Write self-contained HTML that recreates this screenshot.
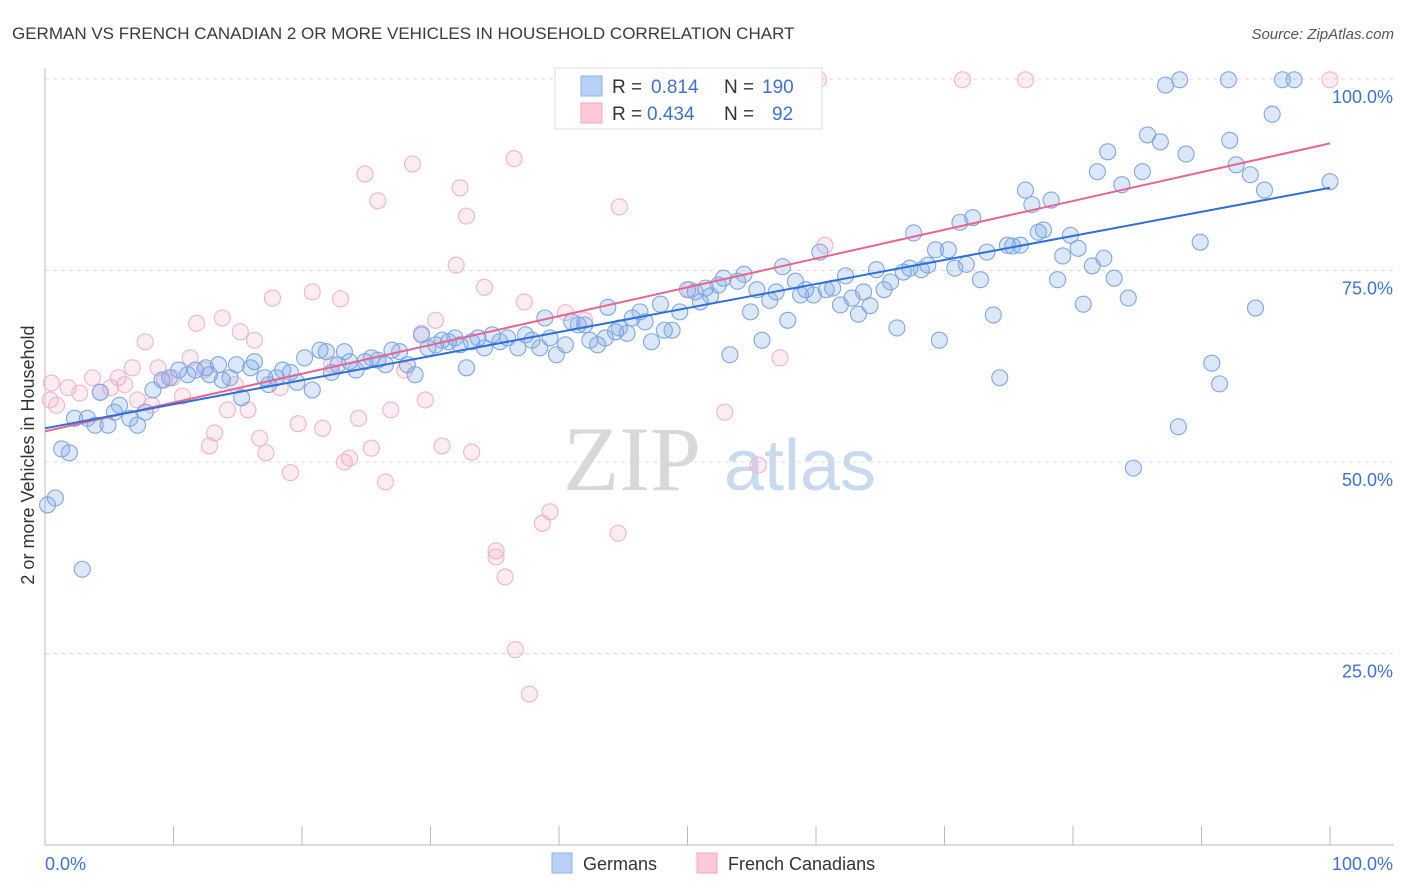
<!DOCTYPE html>
<html><head><meta charset="utf-8"><style>
body{margin:0;background:#fff;font-family:"Liberation Sans",sans-serif;}
svg{display:block}
</style></head><body>
<svg id="chart" width="1406" height="892">
<text x="12" y="39" font-size="17" fill="#3a3a3a">GERMAN VS FRENCH CANADIAN 2 OR MORE VEHICLES IN HOUSEHOLD CORRELATION CHART</text>
<text x="1394" y="39" font-size="15" font-style="italic" fill="#555" text-anchor="end">Source: ZipAtlas.com</text>
<g>
<text x="632" y="490" font-size="92" font-family="Liberation Serif,serif" fill="#d8d8d8" text-anchor="middle">ZIP</text>
<text x="800" y="490" font-size="72" fill="#c9d9f0" text-anchor="middle">atlas</text>
</g>
<g id="grid"></g>
<g id="axes"></g>
<g id="pts"></g>
<g id="lines"></g>
<text transform="translate(34,455) rotate(-90)" font-size="18" fill="#333" text-anchor="middle">2 or more Vehicles in Household</text>
<g>
<rect x="555" y="68" width="267" height="61" fill="rgba(255,255,255,0.85)" stroke="#ddd"/>
<rect x="581" y="76" width="21" height="20" fill="#b8d0f4" stroke="#8fb2ea"/>
<rect x="581" y="103" width="21" height="20" fill="#fbc9d8" stroke="#f3a8c0"/>
<text x="612" y="93" font-size="19" fill="#333">R = </text><text x="651" y="93" font-size="19" fill="#3d72d4">0.814</text>
<text x="724" y="93" font-size="19" fill="#333">N = </text><text x="762" y="93" font-size="19" fill="#3d72d4">190</text>
<text x="612" y="120" font-size="19" fill="#333">R = </text><text x="647" y="120" font-size="19" fill="#3d72d4">0.434</text>
<text x="724" y="120" font-size="19" fill="#333">N = </text><text x="772" y="120" font-size="19" fill="#3d72d4">92</text>
</g>
<g>
<rect x="552" y="853" width="20" height="20" fill="#b8d0f4" stroke="#8fb2ea"/>
<text x="583" y="870" font-size="18" fill="#333">Germans</text>
<rect x="697" y="853" width="20" height="20" fill="#fbc9d8" stroke="#f3a8c0"/>
<text x="728" y="870" font-size="18" fill="#333">French Canadians</text>
</g>
</svg>
<script>
const yTicks=[25,50,75,100];
const yTickLabels=["25.0%","50.0%","75.0%","100.0%"];
const germanX=[0.2,0.8,1.3,1.9,2.9,2.3,3.3,3.9,4.3,4.9,5.4,5.8,6.6,7.2,7.8,8.4,9.1,9.7,10.4,11.1,11.7,12.5,12.8,13.5,13.8,14.4,14.9,15.3,16.0,16.3,17.1,17.4,18.0,18.5,19.1,19.6,20.2,20.8,21.4,21.9,22.3,22.8,23.3,23.7,24.2,24.9,25.4,25.9,26.5,27.0,27.6,28.2,28.8,29.3,29.8,30.4,30.9,31.4,31.9,32.3,32.8,33.2,33.7,34.2,34.8,35.4,36.0,36.8,37.4,37.9,38.5,38.9,39.3,39.8,40.5,41.0,41.5,42.0,42.4,43.0,43.6,43.8,44.4,44.7,45.3,45.7,46.3,46.7,47.2,47.9,48.2,48.8,49.4,50.0,50.6,51.0,51.4,51.8,52.4,52.8,53.3,53.9,54.4,54.9,55.4,55.8,56.4,56.9,57.4,57.8,58.4,58.8,59.2,59.8,60.3,60.8,61.3,61.9,62.3,62.8,63.3,63.7,64.2,64.7,65.3,65.8,66.3,66.8,67.3,67.6,68.2,68.7,69.3,69.6,70.3,70.8,71.2,71.7,72.2,72.8,73.3,73.8,74.3,74.9,75.3,75.9,76.3,76.8,77.3,77.7,78.3,78.8,79.2,79.8,80.4,80.8,81.5,81.9,82.4,82.7,83.2,83.8,84.3,84.7,85.4,85.8,86.8,87.2,88.2,88.3,88.8,89.9,90.8,91.4,92.1,92.2,92.7,93.8,94.2,94.9,95.5,96.3,97.2,100];
const germanY=[44.4,45.3,51.7,51.2,36.0,55.7,55.7,54.8,59.1,54.8,56.5,57.4,55.7,54.8,56.5,59.4,60.7,61.0,62.0,61.4,62.0,62.3,61.4,62.7,60.7,61.0,62.7,58.4,62.3,63.1,61.0,60.1,61.0,62.0,61.7,60.4,63.6,59.4,64.6,64.4,61.7,62.7,64.4,63.1,62.0,63.1,63.6,63.3,62.7,64.6,64.4,62.7,61.4,66.6,64.9,65.3,65.9,65.7,66.2,65.3,62.3,65.7,66.2,64.9,66.6,65.7,66.2,64.9,66.6,65.9,64.9,68.8,66.2,64.0,65.3,68.3,67.9,67.9,65.9,65.3,66.2,70.2,67.0,67.5,66.8,68.8,69.6,68.3,65.7,70.6,67.2,67.2,69.6,72.5,72.2,70.9,72.7,71.7,73.1,74.0,64.0,73.6,74.5,69.6,72.5,65.9,71.1,72.2,75.5,68.5,73.6,71.8,72.5,71.8,77.4,72.5,72.7,70.5,74.3,71.4,69.3,72.2,70.4,75.1,72.5,73.5,67.5,74.8,75.3,79.9,75.1,75.7,77.7,65.9,77.7,75.3,81.3,75.8,81.9,73.8,77.4,69.2,61.0,78.3,78.2,78.3,85.5,83.6,80.0,80.3,84.2,73.8,76.9,79.6,77.9,70.6,75.6,87.9,76.6,90.5,74.0,86.2,71.4,49.2,87.9,92.7,91.8,99.2,54.6,99.9,90.2,78.7,62.9,60.2,99.9,92.0,88.8,87.5,70.1,85.5,95.4,99.9,99.9,86.6];
const frenchX=[0.5,0.4,0.9,1.8,2.7,3.7,4.3,5.1,5.7,6.2,6.8,7.2,7.8,8.3,8.8,9.3,9.9,10.7,11.3,11.8,12.4,12.8,13.2,13.8,14.2,14.8,15.2,15.8,16.3,16.7,17.2,17.7,18.3,19.1,19.7,20.8,21.6,22.3,23.0,23.3,23.7,24.4,24.9,25.4,25.9,26.5,26.9,28.0,28.6,29.3,29.6,30.4,30.9,32.0,32.3,32.8,33.2,34.2,35.1,35.1,35.8,36.5,36.6,37.3,37.7,38.7,39.3,40.5,42.0,44.6,44.7,47.9,50.2,52.9,55.5,57.2,60.2,60.7,71.4,76.3,100];
const frenchY=[60.3,58.1,57.4,59.7,59.0,61.0,59.1,59.7,61.0,60.1,62.3,58.1,65.7,57.4,62.3,60.7,61.0,58.6,63.6,68.1,62.0,52.1,53.8,68.8,56.8,60.1,67.0,56.8,65.9,53.1,51.2,71.4,59.7,48.6,55.0,72.2,54.4,62.7,71.3,50.0,50.5,55.7,87.6,51.8,84.1,47.4,56.8,62.0,88.9,66.8,58.1,68.5,52.1,75.7,85.8,82.1,51.3,72.8,38.4,37.6,35.0,89.6,25.5,70.9,19.7,42.0,43.5,69.5,68.5,40.7,83.3,99.9,72.5,56.5,49.6,63.6,99.9,78.3,99.9,99.9,99.9];
const germanTrend=[54.4,85.8];
const frenchTrend=[54.0,91.6];
const NS='http://www.w3.org/2000/svg';
const X=v=>45+v*12.85, Y=v=>845-v*7.66;
function mk(tag,attrs,parent){const e=document.createElementNS(NS,tag);for(const k in attrs)e.setAttribute(k,attrs[k]);parent.appendChild(e);return e;}
const grid=document.getElementById('grid'),axes=document.getElementById('axes'),pts=document.getElementById('pts'),lines=document.getElementById('lines');
yTicks.forEach((t,i)=>{
 const l=mk('line',{x1:45,x2:1394,y1:Y(t),y2:Y(t),stroke:'#dcdcdc','stroke-dasharray':'4,4'},grid);
 
 
 const tx=mk('text',{x:1393,y:Y(t)+24,'font-size':18,fill:'#3d72d4','text-anchor':'end'},axes);
 tx.textContent=yTickLabels[i];
 
 
});
let a=mk('line',{x1:45,x2:45,y1:68,y2:845,stroke:'#bbb'},axes);


a=mk('line',{x1:45,x2:1394,y1:845,y2:845,stroke:'#bbb'},axes);


for(let i=1;i<=10;i++){const t=mk('line',{x1:X(i*10),x2:X(i*10),y1:826,y2:845,stroke:'#bbb'},axes);
 
 }
let xl=mk('text',{x:45,y:870,'font-size':18,fill:'#3d72d4'},axes);xl.textContent='0.0%';


xl=mk('text',{x:1393,y:870,'font-size':18,fill:'#3d72d4','text-anchor':'end'},axes);xl.textContent='100.0%';


frenchX.forEach((x,i)=>{const c=mk('circle',{cx:X(x),cy:Y(frenchY[i]),r:8,fill:'rgba(246,170,196,0.22)',stroke:'#f4b3c8','stroke-width':1.1},pts);
 
 });
germanX.forEach((x,i)=>{const c=mk('circle',{cx:X(x),cy:Y(germanY[i]),r:8,fill:'rgba(120,165,235,0.26)',stroke:'#7ea7e4','stroke-width':1.1},pts);
 
 });
let tl=mk('line',{x1:X(0),y1:Y(frenchTrend[0]),x2:X(100),y2:Y(frenchTrend[1]),stroke:'#e8658f','stroke-width':2},lines);


tl=mk('line',{x1:X(0),y1:Y(germanTrend[0]),x2:X(100),y2:Y(germanTrend[1]),stroke:'#2f6fd8','stroke-width':2},lines);


</script>
</body></html>
